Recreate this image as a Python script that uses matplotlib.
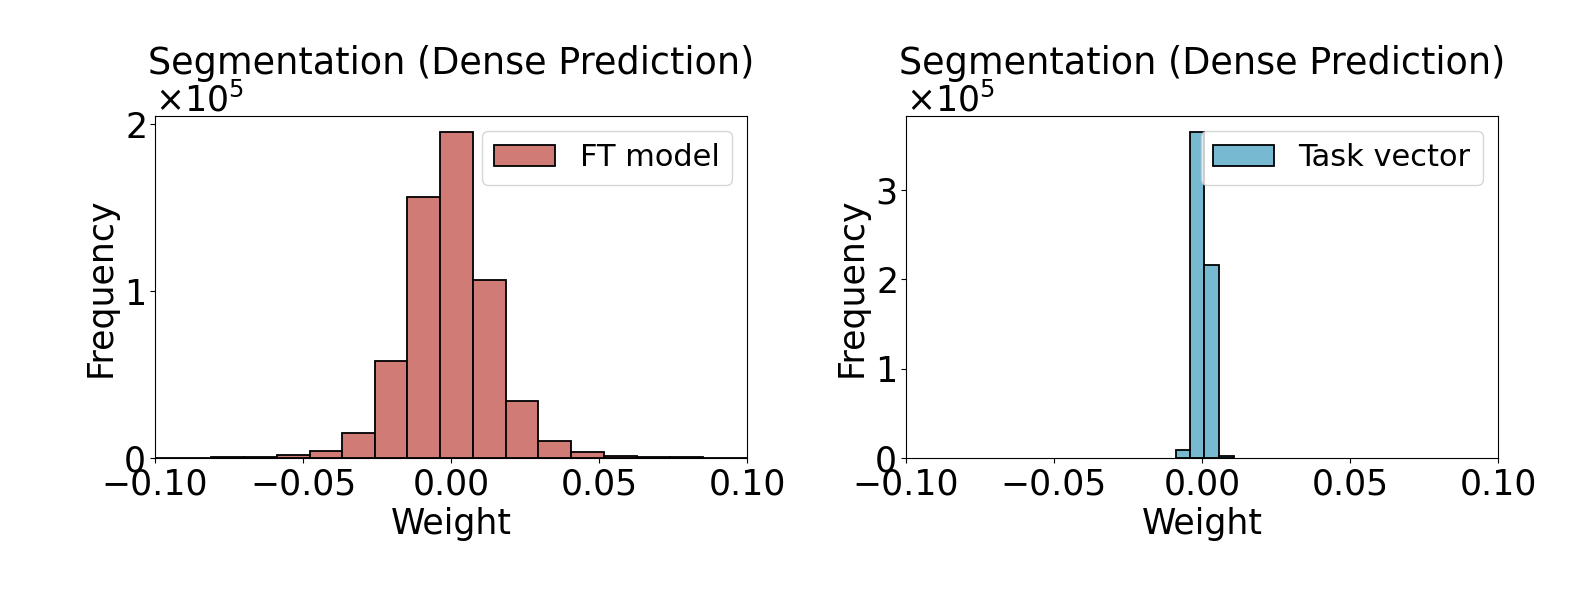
import numpy as np
import matplotlib.pyplot as plt
from matplotlib.ticker import ScalarFormatter

# Histogram bins (weight edges, counts)
ft_edges = [-0.1036, -0.0925, -0.0811, -0.0698, -0.0588, -0.0478, -0.0368, -0.0257,
            -0.0148, -0.0036, 0.0074, 0.0185, 0.0295, 0.0405, 0.0517, 0.0627,
            0.0738, 0.0850, 0.0960, 0.1071]
ft_counts = [50, 100, 300, 600, 1500, 4000, 14700, 58400, 156600, 195400,
             106600, 34400, 10000, 3600, 1400, 600, 300, 100, 50]

tv_edges = [-0.0089, -0.0040, 0.0007, 0.0058, 0.0107]
tv_counts = [9300, 364300, 215600, 2000]

titulo = 'Segmentation (Dense Prediction)'
fs = 25

fig = plt.figure(figsize=(15.78, 5.92), dpi=100)
ax1 = fig.add_axes([0.0982, 0.2264, 0.3753, 0.578])
ax2 = fig.add_axes([0.5741, 0.2264, 0.3753, 0.578])

paneles = [
    (ax1, ft_edges, ft_counts, '#d17b77', 'FT model'),
    (ax2, tv_edges, tv_counts, '#77b9d1', 'Task vector'),
]

for ax, edges, counts, color, etiqueta in paneles:
    edges = np.array(edges)
    ax.bar(edges[:-1], counts, width=np.diff(edges), align='edge',
           color=color, edgecolor='black', linewidth=1.3, label=etiqueta)
    ax.set_xlim(-0.1, 0.1)
    ax.set_xticks([-0.1, -0.05, 0.0, 0.05, 0.1])
    ax.set_title(titulo, fontsize=26.3)
    ax.set_xlabel('Weight', fontsize=fs)
    ax.set_ylabel('Frequency', fontsize=fs)
    ax.tick_params(labelsize=fs)

    # Notación científica en el eje y
    fmt = ScalarFormatter(useMathText=True)
    fmt.set_powerlimits((0, 0))
    ax.yaxis.set_major_formatter(fmt)
    ax.yaxis.get_offset_text().set_fontsize(fs)

    ax.legend(loc='upper right', fontsize=22)

fig.savefig('out.png', dpi=100)
